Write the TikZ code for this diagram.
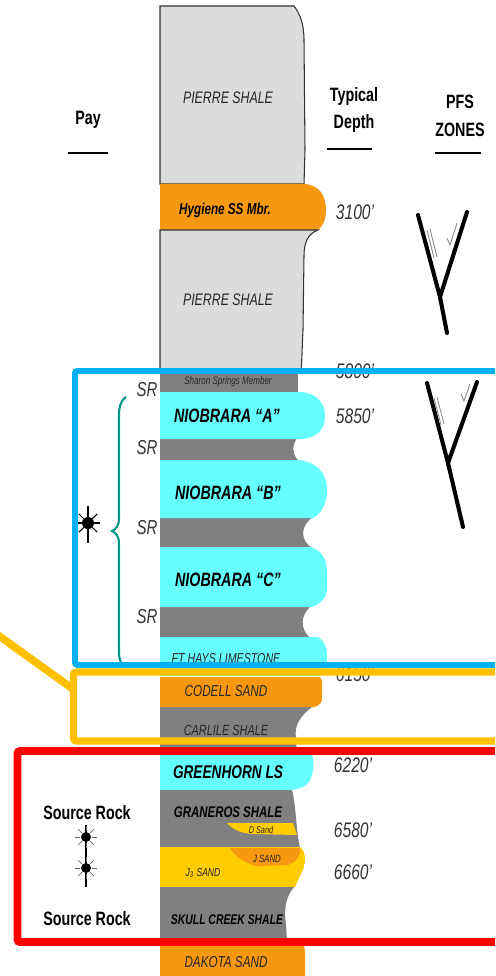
\documentclass[tikz,border=0pt]{standalone}
\usepackage{fontspec}
\setmainfont{Liberation Sans}[FakeStretch=0.74]
\usetikzlibrary{positioning}

\begin{document}
\begin{tikzpicture}[x=0.02cm,y=-0.02cm,
		lbl/.style={inner sep=0pt,text=black!85,font=\itshape\fontsize{9}{10}\selectfont},
		blbl/.style={inner sep=0pt,text=black,font=\bfseries\itshape\fontsize{11}{12}\selectfont},
		hdr/.style={inner sep=0pt,align=center,font=\bfseries\fontsize{11}{15.8}\selectfont},
		depth/.style={inner sep=0pt,text=black!80,font=\itshape\fontsize{12}{13}\selectfont},
		srlbl/.style={inner sep=0pt,text=black!80,font=\itshape\fontsize{11.5}{12}\selectfont},
		pfs/.style={line width=2.3pt,line cap=round},
		tick/.style={black!45,line width=0.5pt},
		zonebox/.style={line width=#1,rounded corners=1.5}]
		\definecolor{pierre}{RGB}{220,220,220}
		\definecolor{shale}{RGB}{128,128,128}
		\definecolor{sand}{RGB}{247,152,16}
		\definecolor{lime}{RGB}{102,255,255}
		\definecolor{jsand}{RGB}{255,204,0}
		\definecolor{boxblue}{RGB}{0,176,240}
		\definecolor{boxorange}{RGB}{255,192,0}
		\definecolor{boxred}{RGB}{255,0,0}
		\definecolor{brace}{RGB}{0,150,136}
		\useasboundingbox (0,0) rectangle (495,976);
		\clip (0,0) rectangle (495,976);

		% column of layers
		\filldraw[fill=pierre,draw=black!80,line width=0.6pt]
		      (160,6)
		   -- (294,6)
		   .. controls (300,14) and (304,24) .. (304,40)
		   -- (305,150)
		   -- (304,184)
		   -- (160,184)
		   -- cycle;
		\fill[sand]
		      (160,184)
		   -- (306,184)
		   .. controls (320,186) and (326,196) .. (326,210)
		   .. controls (326,220) and (323,226) .. (318,230)
		   -- (160,230)
		   -- cycle;
		\filldraw[fill=pierre,draw=black!80,line width=0.6pt]
		      (160,230)
		   -- (318,230)
		   .. controls (308,234) and (304,242) .. (304,256)
		   -- (303,330)
		   .. controls (302,350) and (302,360) .. (301,372)
		   -- (160,372)
		   -- cycle;
		\fill[shale] (160,372) rectangle (298,393);
		\fill[shale]
		      (160,438)
		   -- (297,438)
		   .. controls (292,446) and (292,454) .. (298,460)
		   -- (160,460)
		   -- cycle;
		\fill[shale]
		      (160,517)
		   -- (313,517)
		   .. controls (300,526) and (300,540) .. (312,548)
		   -- (160,548)
		   -- cycle;
		\fill[shale]
		      (160,606)
		   -- (311,606)
		   .. controls (300,616) and (300,628) .. (310,638)
		   -- (160,638)
		   -- cycle;
		\fill[lime]
		      (160,392)
		   -- (302,392)
		   .. controls (318,394) and (325,404) .. (325,416)
		   .. controls (325,430) and (316,438) .. (302,439)
		   -- (160,439)
		   -- cycle;
		\fill[lime]
		      (160,460)
		   -- (298,460)
		   .. controls (318,462) and (327,474) .. (327,490)
		   .. controls (327,506) and (320,514) .. (313,518)
		   -- (160,518)
		   -- cycle;
		\fill[lime]
		      (160,547)
		   -- (310,547)
		   .. controls (322,550) and (327,560) .. (327,572)
		   -- (327,590)
		   .. controls (326,600) and (318,605) .. (311,607)
		   -- (160,607)
		   -- cycle;
		\fill[lime]
		      (160,637)
		   -- (318,637)
		   .. controls (324,640) and (327,648) .. (327,656)
		   .. controls (327,666) and (325,672) .. (320,676)
		   -- (160,676)
		   -- cycle;
		\fill[sand]
		      (160,677)
		   -- (320,677)
		   -- (322,681)
		   -- (322,700)
		   .. controls (321,704) and (318,706) .. (314,707)
		   -- (160,707)
		   -- cycle;
		\fill[shale]
		      (160,707)
		   -- (312,707)
		   .. controls (300,716) and (294,726) .. (296,738)
		   -- (297,755)
		   -- (160,755)
		   -- cycle;
		\fill[lime]
		      (160,755)
		   -- (312,755)
		   .. controls (314,760) and (314,770) .. (311,778)
		   .. controls (309,784) and (304,788) .. (292,790)
		   -- (160,790)
		   -- cycle;
		\fill[shale]
		      (160,790)
		   -- (292,790)
		   .. controls (296,805) and (296,830) .. (300,848)
		   -- (160,848)
		   -- cycle;
		\fill[jsand]
		      (227,823)
		   -- (293,823)
		   -- (297,835)
		   -- (252,834)
		   .. controls (240,833) and (232,829) .. (227,823)
		   -- cycle;
		\fill[jsand]
		      (160,847)
		   -- (300,847)
		   .. controls (306,852) and (306,860) .. (303,870)
		   -- (295,887)
		   -- (160,887)
		   -- cycle;
		\fill[sand]
		      (230,848)
		   -- (300,848)
		   .. controls (301,856) and (296,862) .. (288,865)
		   -- (258,866)
		   .. controls (245,864) and (235,856) .. (230,848)
		   -- cycle;
		\fill[shale]
		      (160,887)
		   -- (294,887)
		   .. controls (285,898) and (284,910) .. (286,925)
		   -- (287,941)
		   -- (160,941)
		   -- cycle;
		\fill[sand]
		      (160,940)
		   -- (296,940)
		   .. controls (302,941) and (305,946) .. (305,952)
		   -- (305,980)
		   -- (160,980)
		   -- cycle;

		% layer names
		\node[lbl,font=\itshape\fontsize{9.5}{10}\selectfont] (pierreA) at (228,98) {PIERRE SHALE};
		\node[blbl,font=\bfseries\itshape\fontsize{9}{10}\selectfont] (hygiene) at (225,210) {Hygiene SS Mbr.};
		\node[lbl,font=\itshape\fontsize{9.5}{10}\selectfont] (pierreB) at (228,300) {PIERRE SHALE};
		\node[lbl,font=\itshape\fontsize{6.2}{7}\selectfont] (sharon) at (228,382) {Sharon Springs Member};
		\node[blbl] (nioA) at (227,416) {NIOBRARA “A”};
		\node[blbl] (nioB) at (228,493) {NIOBRARA “B”};
		\node[blbl] (nioC) at (228,580) {NIOBRARA “C”};
		\node[lbl,font=\itshape\fontsize{8.2}{9}\selectfont] (fthays) at (226,659) {FT HAYS LIMESTONE};
		\node[lbl] (codell) at (226,691) {CODELL SAND};
		\node[lbl,font=\itshape\fontsize{8.4}{9}\selectfont] (carlile) at (226,730) {CARLILE SHALE};
		\node[blbl,font=\bfseries\itshape\fontsize{10.5}{11}\selectfont] (greenhorn) at (228,772) {GREENHORN LS};
		\node[blbl,font=\bfseries\itshape\fontsize{8.8}{9}\selectfont] (graneros) at (228,812) {GRANEROS SHALE};
		\node[lbl,font=\itshape\fontsize{5.6}{6}\selectfont] (dsand) at (261,830) {D Sand};
		\node[lbl,font=\itshape\fontsize{6}{6}\selectfont] (jsand) at (267,859) {J SAND};
		\node[lbl,font=\itshape\fontsize{6.6}{7}\selectfont] (jthree) at (203,873) {J\textsubscript{3} SAND};
		\node[blbl,font=\bfseries\itshape\fontsize{8}{9}\selectfont] (skull) at (227,920) {SKULL CREEK SHALE};
		\node[lbl] (dakota) at (226,962) {DAKOTA SAND};

		% headings
		\node[hdr] (pay) at (88,120) {Pay};
		\node[hdr] (typical) at (354,110) {Typical\\Depth};
		\node[hdr] (pfszones) at (460,116) {PFS\\ZONES};
		\draw[line width=1.7pt] (68,153) -- (108,153);
		\draw[line width=1.7pt] (327,149) -- (372,149);
		\draw[line width=1.7pt] (435,153) -- (481,153);

		% depths
		\node[depth] (d3100) at (355,212) {3100'};
		\node[depth] (d5800) at (355,371) {5800'};
		\node[depth] (d5850) at (355,416) {5850'};
		\node[depth] (d6150) at (355,674) {6150'};
		\node[depth] (d6220) at (353,765) {6220'};
		\node[depth] (d6580) at (353,830) {6580'};
		\node[depth] (d6660) at (353,872) {6660'};

		% SR marks
		\node[srlbl] (srA) at (147,390) {SR};
		\node[srlbl] (srB) at (147,448) {SR};
		\node[srlbl] (srC) at (147,528) {SR};
		\node[srlbl] (srD) at (147,617) {SR};

		% brace and pay star
		\draw[brace,line width=1.2pt]
		      (126,397)
		   .. controls (121,400) and (119,406) .. (119,416)
		   -- (119,518)
		   .. controls (119,526) and (116,529) .. (112,531)
		   .. controls (116,533) and (119,536) .. (119,544)
		   -- (119,652)
		   .. controls (119,660) and (121,664) .. (125,667);
		\coordinate (payStar) at (88,523);
		\fill (payStar) circle (6);
		\foreach \a in {45,135,225,315}
			\draw[line width=0.6pt] (payStar) ++(\a:6) -- ++(\a:7);
		\draw[line width=0.7pt] (78,523) -- (100,523);
		\draw[line width=0.7pt] (88,506) -- (88,543);

		% source rock
		\node[hdr] (srcTop) at (87,813) {Source Rock};
		\node[hdr] (srcBot) at (87,919) {Source Rock};
		\coordinate (sunA) at (86,837);
		\coordinate (sunB) at (86,868);
		\coordinate (stemTop) at (86,825);
		\coordinate (stemBot) at (86,887);
		\draw[line width=0.8pt] (stemTop) -- (stemBot);
		\foreach \s in {sunA,sunB}{
			\fill (\s) circle (5);
			\foreach \a in {0,45,...,315}
				\draw[black!60,line width=0.4pt] (\s) ++(\a:6) -- ++(\a:5);
		}

		% PFS zones
		\coordinate (pfsA) at (440,297);
		\draw[pfs] (418,215) -- (pfsA) -- (467,212);
		\draw[pfs] (pfsA) -- (447,333);
		\draw[tick] (427,230) -- (434,258);
		\draw[tick] (430,229) -- (437,257);
		\draw[tick] (447,238) -- (450,245) -- (457,223);
		\coordinate (pfsB) at (448,463);
		\draw[pfs] (427,383) -- (pfsB) -- (477,382);
		\draw[pfs] (pfsB) -- (463,527);
		\draw[tick] (434,398) -- (441,425);
		\draw[tick] (437,397) -- (444,424);
		\draw[tick] (461,394) -- (464,401) -- (470,384);

		% zone boxes
		\draw[boxblue,zonebox=3.4pt] (75,371) rectangle (520,665);
		\draw[boxorange,zonebox=4pt] (73.5,672) rectangle (520,741);
		\draw[boxorange,line width=4.4pt] (-5,633) -- (73,689);
		\draw[boxred,zonebox=4.5pt] (17.5,751) rectangle (520,942);
	\end{tikzpicture}
\end{document}
